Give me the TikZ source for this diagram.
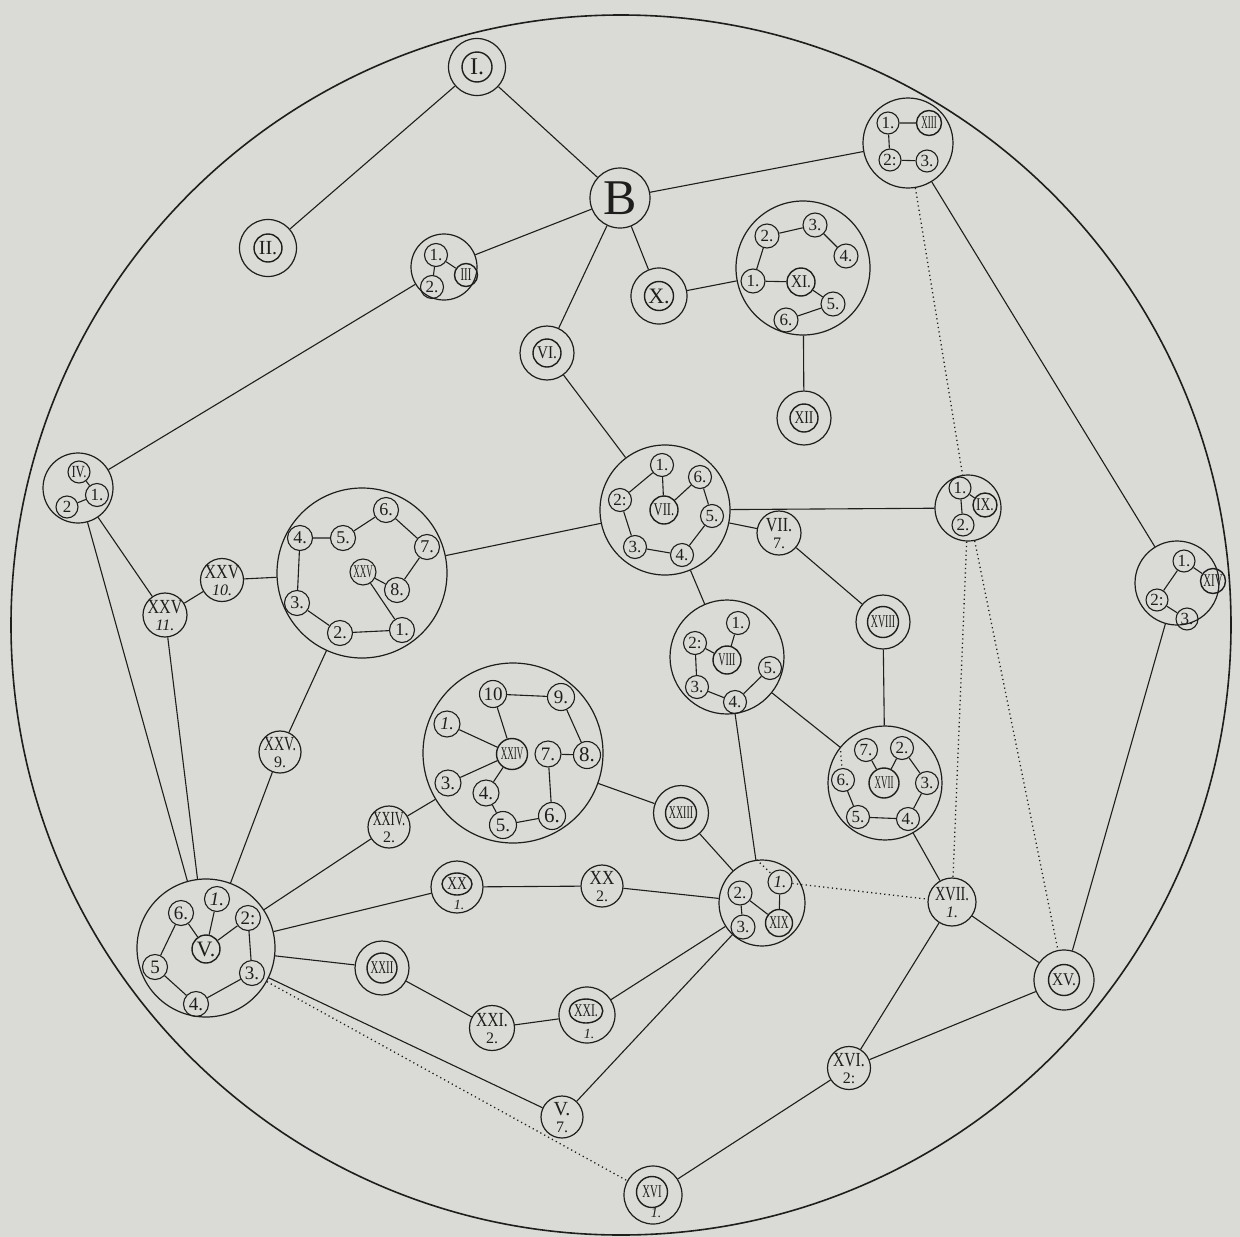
\documentclass[tikz,border=0pt]{standalone}
\usepackage{fontspec}
\setmainfont{Liberation Serif}
\usepackage{graphicx}
\usetikzlibrary{shapes.geometric}
\definecolor{paper}{RGB}{218,219,215}
\definecolor{ink}{RGB}{30,30,28}
\newcommand{\sqz}[2]{\scalebox{#1}[1]{#2}}
\newcommand{\fs}[1]{\fontsize{#1}{#1}\selectfont}
% name, x, y, outer size, inner size, text
\newcommand{\dring}[6]{%
  \node[ring=#4] (#1) at (#2,#3) {};
  \node[rom=#5] (#1-i) at (#2,#3) {#6};}
% name, x, y, size, top text, bottom text
\newcommand{\twoline}[6]{%
  \node[ring=#4] (#1) at (#2,#3) {};
  \node[toptx] (#1-t) at (#2,#3-8) {#5};
  \node[bottx] (#1-b) at (#2,#3+10) {#6};}
\begin{document}
\begin{tikzpicture}[x=1pt,y=-1pt,
  ln/.style={draw=ink,line width=1.1pt},
  dl/.style={draw=ink,line width=1.3pt,dash pattern=on 1.2pt off 3.2pt},
  ring/.style={circle,draw=ink,line width=1.2pt,minimum size=#1,inner sep=0pt},
  num/.style={circle,draw=ink,line width=1.1pt,minimum size=#1,inner sep=0pt,text=ink,font=\fs{17}},
  num/.default=24pt,
  rom/.style={circle,draw=ink,line width=1.4pt,minimum size=#1,inner sep=0pt,text=ink,font=\fs{18}},
  rom/.default=28pt,
  oval/.style={ellipse,draw=ink,line width=1.4pt,minimum width=30pt,minimum height=22pt,inner sep=0pt,text=ink,font=\fs{18}},
  toptx/.style={inner sep=0pt,text=ink,font=\fs{20}},
  bottx/.style={inner sep=0pt,text=ink,font=\fs{16}},
  smalltx/.style={inner sep=0pt,text=ink,font=\fs{14}\itshape},
]
\fill[paper] (0,0) rectangle (1240,1237);
\useasboundingbox (0,0) rectangle (1240,1237);
\node[circle,draw=ink,line width=1.6pt,minimum size=1220pt,inner sep=0pt] (frame) at (621,625) {};

% ---------- single and double rings ----------
\dring{I}{477}{67}{57pt}{30pt}{\fs{24}I.}
\dring{II}{268}{248}{57pt}{28pt}{\fs{20}II.}
\node[ring=60pt,text=ink,font=\fs{50}] (B) at (620,198) {B};
\dring{X}{659}{296}{56pt}{29pt}{\fs{22}X.}
\dring{XII}{804}{418}{54pt}{28pt}{\sqz{0.75}{XII}}
\dring{VI}{547}{353}{54pt}{28pt}{\sqz{0.85}{VI.}}
\dring{XVIII}{883}{622}{54pt}{31pt}{\sqz{0.55}{XVIII}}
\dring{XXIII}{681}{813}{55pt}{31pt}{\sqz{0.55}{XXIII}}
\dring{XXII}{382}{968}{54pt}{30pt}{\sqz{0.6}{XXII}}
\dring{XV}{1064}{980}{60pt}{31pt}{\sqz{0.85}{XV.}}

\node[ring=52pt] (XX1) at (457,887) {};
\node[oval] (XX1-i) at (457,884) {\sqz{0.75}{XX}};
\node[smalltx] (XX1-n) at (459,905) {1.};
\node[ring=56pt] (XXI1) at (587,1015) {};
\node[oval,minimum height=24pt] (XXI1-i) at (586,1011) {\sqz{0.65}{XXI.}};
\node[smalltx] (XXI1-n) at (589,1034) {1.};
\node[ring=58pt] (XVI1) at (653,1195) {};
\node[rom=31pt] (XVI1-i) at (652,1192) {\sqz{0.6}{XVI}};
\node[smalltx] (XVI1-n) at (656,1213) {1.};

% ---------- two-line nodes ----------
\twoline{XXV11}{165}{615}{44pt}{\sqz{0.8}{XXV}}{\itshape 11.}
\twoline{XXV10}{222}{580}{43pt}{\sqz{0.8}{XXV}}{\itshape 10.}
\twoline{XXV9}{280}{752}{42pt}{\sqz{0.7}{XXV.}}{9.}
\twoline{XXIV2}{389}{827}{42pt}{\sqz{0.62}{XXIV.}}{2.}
\twoline{VII7}{779}{533}{44pt}{\sqz{0.8}{VII.}}{7.}
\twoline{XVII1}{952}{902}{48pt}{\sqz{0.72}{XVII.}}{\itshape 1.}
\twoline{XVI2}{849}{1068}{43pt}{\sqz{0.78}{XVI.}}{2:}
\twoline{XX2}{602}{886}{42pt}{\sqz{0.85}{XX}}{2.}
\twoline{XXI2}{492}{1028}{45pt}{\sqz{0.78}{XXI.}}{2.}
\twoline{V7}{562}{1117}{42pt}{V.}{7.}

% ---------- III group ----------
\node[ring=66pt] (IIIg) at (444,267) {};
\node[num=23pt] (III-1) at (436,255) {1.};
\node[num=23pt] (III-2) at (432,287) {2.};
\node[rom=23pt] (III-c) at (466,275) {\sqz{0.6}{III}};
\draw[ln] (III-1)--(III-2) (III-1)--(III-c);

% ---------- XI group ----------
\node[ring=134pt] (XIg) at (803,268) {};
\node[num] (XI-2) at (767,236) {2.};
\node[num] (XI-3) at (815,225) {3.};
\node[num] (XI-4) at (846,256) {4.};
\node[num] (XI-1) at (753,281) {1.};
\node[rom=28pt] (XI-c) at (801,282) {\sqz{0.85}{XI.}};
\node[num] (XI-5) at (833,304) {5.};
\node[num] (XI-6) at (786,320) {6.};
\draw[ln] (XI-2)--(XI-3) (XI-3)--(XI-4) (XI-1)--(XI-2) (XI-1)--(XI-c) (XI-c)--(XI-5) (XI-5)--(XI-6);

% ---------- XIII group ----------
\node[ring=90pt] (XIIIg) at (908,143) {};
\node[num=22pt] (XIII-1) at (888,123) {1.};
\node[rom=25pt] (XIII-c) at (929,123) {\sqz{0.5}{XIII}};
\node[num=22pt] (XIII-2) at (890,160) {2:};
\node[num=22pt] (XIII-3) at (927,161) {3.};
\draw[ln] (XIII-1)--(XIII-c) (XIII-1)--(XIII-2) (XIII-2)--(XIII-3);

% ---------- IX group ----------
\node[ring=66pt] (IXg) at (968,508) {};
\node[num=22pt] (IX-1) at (960,488) {1.};
\node[rom=24pt] (IX-c) at (985,505) {\sqz{0.75}{IX.}};
\node[num=22pt] (IX-2) at (963,525) {2.};
\draw[ln] (IX-1)--(IX-c) (IX-1)--(IX-2);

% ---------- XIV group ----------
\node[ring=84pt] (XIVg) at (1177,583) {};
\node[num=22pt] (XIV-1) at (1184,561) {1.};
\node[rom=25pt] (XIV-c) at (1213,581) {\sqz{0.6}{XIV}};
\node[num=22pt] (XIV-2) at (1157,600) {2:};
\node[num=22pt] (XIV-3) at (1187,619) {3.};
\draw[ln] (XIV-1)--(XIV-c) (XIV-1)--(XIV-2) (XIV-2)--(XIV-3);

% ---------- IV group ----------
\node[ring=70pt] (IVg) at (78,488) {};
\node[num=22pt] (IV-c) at (79,472) {\sqz{0.75}{IV.}};
\node[num=23pt] (IV-1) at (97,495) {1.};
\node[num=22pt] (IV-2) at (67,507) {2};
\draw[ln] (IV-c)--(IV-1) (IV-1)--(IV-2);

% ---------- XXV group ----------
\node[ring=170pt] (XXVg) at (362,573) {};
\node[num=25pt,font=\fs{18}] (XXV-4) at (300,538) {4.};
\node[num=25pt,font=\fs{18}] (XXV-5) at (343,538) {5.};
\node[num=25pt,font=\fs{18}] (XXV-6) at (386,510) {6.};
\node[num=25pt,font=\fs{18}] (XXV-7) at (427,547) {7.};
\node[num=26pt,font=\fs{18}] (XXV-c) at (363,572) {\sqz{0.5}{XXV}};
\node[num=25pt,font=\fs{18}] (XXV-8) at (397,590) {8.};
\node[num=25pt,font=\fs{18}] (XXV-3) at (297,603) {3.};
\node[num=25pt,font=\fs{18}] (XXV-2) at (340,633) {2.};
\node[num=25pt,font=\fs{18}] (XXV-1) at (402,630) {1.};
\draw[ln] (XXV-4)--(XXV-5) (XXV-5)--(XXV-6) (XXV-6)--(XXV-7) (XXV-7)--(XXV-8) (XXV-8)--(XXV-c)
  (XXV-c)--(XXV-1) (XXV-1)--(XXV-2) (XXV-2)--(XXV-3) (XXV-3)--(XXV-4);

% ---------- VII group ----------
\node[ring=130pt] (VIIg) at (665,510) {};
\node[num=23pt] (VII-1) at (662,465) {1.};
\node[num=23pt] (VII-6) at (700,477) {6.};
\node[num=23pt] (VII-2) at (620,500) {2:};
\node[rom=28pt] (VII-c) at (664,510) {\sqz{0.7}{VII.}};
\node[num=23pt] (VII-5) at (712,516) {5.};
\node[num=23pt] (VII-3) at (635,547) {3.};
\node[num=23pt] (VII-4) at (682,555) {4.};
\draw[ln] (VII-1)--(VII-2) (VII-1)--(VII-c) (VII-c)--(VII-6) (VII-6)--(VII-5) (VII-5)--(VII-4) (VII-4)--(VII-3) (VII-3)--(VII-2);

% ---------- VIII group ----------
\node[ring=114pt] (VIIIg) at (727,657) {};
\node[num=23pt] (VIII-1) at (738,623) {1.};
\node[num=23pt] (VIII-2) at (695,643) {2:};
\node[rom=28pt] (VIII-c) at (727,660) {\sqz{0.55}{VIII}};
\node[num=23pt] (VIII-5) at (770,668) {5.};
\node[num=23pt] (VIII-3) at (697,687) {3.};
\node[num=23pt] (VIII-4) at (735,702) {4.};
\draw[ln] (VIII-1)--(VIII-c) (VIII-2)--(VIII-c) (VIII-2)--(VIII-3) (VIII-3)--(VIII-4) (VIII-4)--(VIII-5);

% ---------- XXIV group ----------
\node[ring=180pt] (XXIVg) at (513,753) {};
\node[num=27pt,font=\fs{19}] (XXIV-10) at (493,694) {10};
\node[num=27pt,font=\fs{19}] (XXIV-9) at (561,697) {9.};
\node[num=26pt,font=\fs{18}] (XXIV-1) at (447,724) {\itshape 1.};
\node[rom=31pt] (XXIV-c) at (512,754) {\sqz{0.5}{XXIV}};
\node[num=26pt,font=\fs{19}] (XXIV-7) at (548,754) {7.};
\node[num=27pt,font=\fs{21}] (XXIV-8) at (587,755) {8.};
\node[num=26pt,font=\fs{19}] (XXIV-3) at (448,783) {3.};
\node[num=26pt,font=\fs{19}] (XXIV-4) at (486,793) {4.};
\node[num=27pt,font=\fs{19}] (XXIV-5) at (503,825) {5.};
\node[num=27pt,font=\fs{21}] (XXIV-6) at (552,816) {6.};
\draw[ln] (XXIV-10)--(XXIV-9) (XXIV-10)--(XXIV-c) (XXIV-1)--(XXIV-c) (XXIV-3)--(XXIV-c) (XXIV-4)--(XXIV-c)
  (XXIV-9)--(XXIV-8) (XXIV-7)--(XXIV-8) (XXIV-7)--(XXIV-6) (XXIV-6)--(XXIV-5) (XXIV-5)--(XXIV-4);

% ---------- V group ----------
\node[ring=138pt] (Vg) at (206,948) {};
\node[num=25pt,font=\fs{19}] (V-1) at (217,899) {\itshape 1.};
\node[num=25pt,font=\fs{19}] (V-6) at (181,913) {6.};
\node[num=25pt,font=\fs{19}] (V-2) at (248,918) {2:};
\node[rom=28pt,font=\fs{22}] (V-c) at (206,949) {V.};
\node[num=25pt,font=\fs{19}] (V-5) at (155,967) {5};
\node[num=25pt,font=\fs{19}] (V-3) at (252,973) {3.};
\node[num=25pt,font=\fs{19}] (V-4) at (196,1004) {4.};
\draw[ln] (V-1)--(V-c) (V-6)--(V-c) (V-2)--(V-c) (V-6)--(V-5) (V-5)--(V-4) (V-4)--(V-3) (V-3)--(V-2);

% ---------- XIX group ----------
\node[ring=86pt] (XIXg) at (762,903) {};
\node[num=24pt] (XIX-1) at (780,882) {\itshape 1.};
\node[num=24pt] (XIX-2) at (740,893) {2.};
\node[num=24pt] (XIX-3) at (743,927) {3.};
\node[rom=27pt] (XIX-c) at (779,923) {\sqz{0.6}{XIX}};
\draw[ln] (XIX-1)--(XIX-c) (XIX-2)--(XIX-c) (XIX-2)--(XIX-3);

% ---------- XVII group ----------
\node[ring=114pt] (XVIIg) at (885,783) {};
\node[num=23pt] (XVII-7) at (866,750) {7.};
\node[num=23pt] (XVII-2) at (902,748) {2.};
\node[rom=30pt] (XVII-c) at (884,783) {\sqz{0.5}{XVII}};
\node[num=23pt] (XVII-6) at (843,780) {6.};
\node[num=23pt] (XVII-3) at (927,783) {3.};
\node[num=23pt] (XVII-5) at (858,817) {5.};
\node[num=23pt] (XVII-4) at (908,819) {4.};
\draw[ln] (XVII-7)--(XVII-c) (XVII-2)--(XVII-c) (XVII-2)--(XVII-3) (XVII-3)--(XVII-4) (XVII-4)--(XVII-5) (XVII-5)--(XVII-6);

% ---------- connectors ----------
\draw[ln] (I)--(B) (I)--(II) (B)--(IIIg) (B)--(XIIIg) (B)--(X) (B)--(VI)
  (X)--(XIg) (XIg)--(XII) (IIIg)--(IVg) (VI)--(VIIg)
  (IVg)--(XXV11) (IVg)--(Vg) (XXV11)--(Vg) (XXV11)--(XXV10) (XXV10)--(XXVg)
  (XXVg)--(VIIg) (XXVg)--(XXV9) (XXV9)--(Vg)
  (VIIg)--(IXg) (VIIg)--(VII7) (VII7)--(XVIII) (VIIg)--(VIIIg)
  (XVIII)--(XVIIg) (VIIIg)--(XVIIg) (VIIIg)--(XIXg)
  (XIIIg)--(XIVg) (XIVg)--(XV)
  (XXIVg)--(XXIII) (XXIVg)--(XXIV2) (XXIV2)--(Vg) (XXIII)--(XIXg)
  (Vg)--(XX1) (XX1)--(XX2) (XX2)--(XIXg)
  (Vg)--(XXII) (XXII)--(XXI2) (XXI2)--(XXI1) (XXI1)--(XIXg)
  (Vg)--(V7) (V7)--(XIXg)
  (XVIIg)--(XVII1) (XVII1)--(XV) (XVII1)--(XVI2) (XV)--(XVI2) (XVI2)--(XVI1);
\draw[dl] (XIIIg)--(IXg) (IXg)--(XVII1) (IXg)--(XV) (XIX-1)--(XVII1) (Vg)--(XVI1)
  (XIXg.97)--(XIX-1) (XVIIg.141)--(XVII-6);
\end{tikzpicture}
\end{document}
